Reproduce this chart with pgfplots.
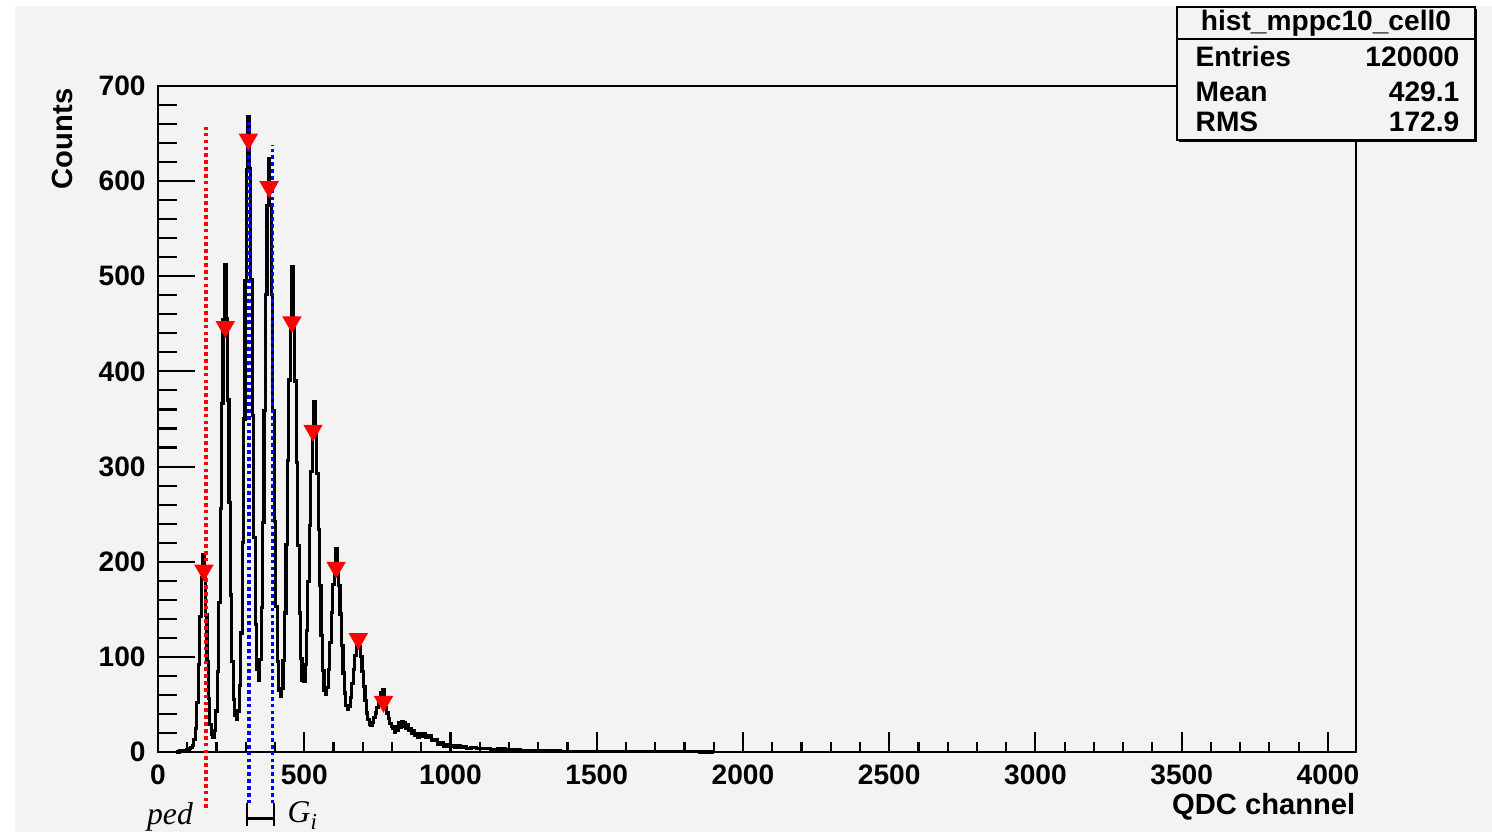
\documentclass[border=0pt]{standalone}
\usepackage{pgfplots}
\pgfplotsset{compat=1.18}
\usepackage{fontspec}
\setmainfont{Liberation Sans}
\newfontfamily\seriffont{Liberation Serif}
\definecolor{rootbg}{RGB}{243,243,243}

\pgfplotsset{
  rootaxis/.style={
    at={(1.58cm,0.80cm)}, anchor=south west,
    scale only axis, width=11.98cm, height=6.66cm,
    xmin=0, xmax=4096, ymin=0, ymax=700,
    tick align=inside,
    tick style={black, line width=0.6pt},
    ticklabel style={font=\fontsize{8}{9}\selectfont\bfseries},
    /pgf/number format/assume math mode=true,
    /pgf/number format/1000 sep={},
    scaled ticks=false,
  }
}

\begin{document}
\begin{tikzpicture}[x=1cm,y=1cm]
\useasboundingbox (0,0) rectangle (14.92,8.32);
\fill[rootbg] (0.15,0) rectangle (14.92,8.26);

% y ticks (longer, ROOT style)
\begin{axis}[rootaxis,
  axis line style={draw=none},
  xtick=\empty,
  ytick={0,100,...,700}, minor y tick num=4, ytick pos=left,
  major tick length=0.37cm, minor tick length=0.19cm,
]
\end{axis}

\begin{axis}[rootaxis,
  clip=false,
  axis line style={black, line width=0.6pt},
  xtick={0,500,...,4000}, minor x tick num=4, xtick pos=left,
  ytick=\empty,
  major tick length=0.20cm, minor tick length=0.10cm,
  xlabel={QDC channel},
  ylabel={Counts},
  xlabel style={at={(axis description cs:1,0)}, anchor=base east, yshift=-0.63cm,
    inner sep=0pt, font=\fontsize{8.3}{9}\selectfont\bfseries},
  ylabel style={at={(axis description cs:-0.071,0.997)}, anchor=base east,
    inner sep=0pt, font=\fontsize{8.3}{9}\selectfont\bfseries},
]
\addplot[black, line width=0.9pt, const plot mark mid] table {
x y
60 0
70 0
75 1
80 1
85 2
90 2
95 2
100 3
105 3
110 4
115 5
120 7
125 13
130 25
135 52
140 92
145 142
150 183
155 208
160 184
165 144
170 95
175 56
180 29
185 18
190 15
195 23
200 43
205 85
210 157
215 256
220 366
225 454
230 512
235 456
240 370
245 262
250 165
255 95
260 55
265 38
270 34
275 43
280 70
285 125
290 220
295 350
300 495
305 612
310 668
315 613
320 497
325 354
330 225
335 134
340 87
345 75
350 97
355 152
360 241
365 359
370 481
375 574
380 624
385 574
390 481
395 359
400 242
405 153
410 95
415 65
420 58
425 67
430 96
435 146
440 218
445 306
450 391
455 456
460 510
465 456
470 390
475 304
480 217
485 146
490 98
495 75
500 74
505 92
510 128
515 179
520 238
525 295
530 335
535 368
540 334
545 293
550 234
555 175
560 122
565 86
570 65
575 60
580 68
585 87
590 115
595 147
600 176
605 197
610 214
615 196
620 175
625 145
630 112
635 83
640 62
645 49
650 45
655 48
660 57
665 72
670 87
675 101
680 111
685 117
690 111
695 100
700 85
705 69
710 54
715 41
720 34
725 29
730 28
735 31
740 36
745 41
750 47
755 53
760 57
765 62
770 66
775 53
780 47
785 41
790 35
795 30
800 27
805 25
810 21
815 27
820 23
825 31
830 26
835 32
840 27
845 31
850 25
855 29
860 23
865 25
870 20
875 22
880 17
885 19
890 15
895 19
900 16
910 19
920 15
930 17
940 12
950 13
960 8
970 10
980 6
990 8
1000 5.5
1010 7
1020 5
1030 6.5
1040 4.5
1050 6
1060 4
1080 5
1100 3.5
1125 4
1150 2.8
1175 3.2
1200 2.2
1225 2.6
1250 1.8
1300 1.5
1350 1.1
1400 0.8
1450 0.6
1500 0.4
1600 0.25
1700 0.15
1800 0.1
1900 0
};

% found peaks
\addplot[only marks, mark=triangle*, mark size=2.8pt,
  mark options={rotate=180, draw=red, fill=red}] coordinates {
  (157,191) (230,447) (309,644) (380,594) (458,452)
  (530,338) (609,194) (685,119) (771,53)
};

% pedestal and gain markers
\addplot[red, line width=1.05pt, dash pattern=on 1.05pt off 0.9pt] coordinates {(164,-59) (164,657)};
\addplot[blue, line width=1.05pt, dash pattern=on 1.05pt off 0.9pt] coordinates {(312,-54) (312,662)};
\addplot[blue, line width=1.05pt, dash pattern=on 1.05pt off 0.9pt] coordinates {(392,-54) (392,638)};
\draw[black, line width=0.7pt] (axis cs:305,-54) -- (axis cs:305,-78);
\draw[black, line width=0.7pt] (axis cs:397,-54) -- (axis cs:397,-78);
\draw[black, line width=0.7pt] (axis cs:305,-70) -- (axis cs:397,-70);
\end{axis}

\node[anchor=base, inner sep=0pt] at (1.70,0.07) {\fontsize{9}{10}\selectfont\seriffont\itshape ped};
\node[anchor=base west, inner sep=0pt] at (2.87,0.09) {\fontsize{9}{10}\selectfont\seriffont\itshape G\raisebox{-0.45ex}{\fontsize{6.5}{7}\selectfont i}};

% stats box
\fill[black] (11.79,6.90) rectangle (14.77,8.23);
\filldraw[fill=rootbg, draw=black, line width=0.6pt] (11.77,6.92) rectangle (14.75,8.25);
\draw[black, line width=0.6pt] (11.77,7.93) -- (14.75,7.93);
\begin{scope}[every node/.style={inner sep=0pt, font=\fontsize{8}{9}\selectfont\bfseries}]
\node[anchor=base] at (13.26,8.01) {hist\_mppc10\_cell0};
\node[anchor=base west] at (11.95,7.65) {Entries};
\node[anchor=base east] at (14.60,7.65) {120000};
\node[anchor=base west] at (11.95,7.30) {Mean};
\node[anchor=base east] at (14.60,7.30) {429.1};
\node[anchor=base west] at (11.95,7.00) {RMS};
\node[anchor=base east] at (14.60,7.00) {172.9};
\end{scope}
\end{tikzpicture}
\end{document}
